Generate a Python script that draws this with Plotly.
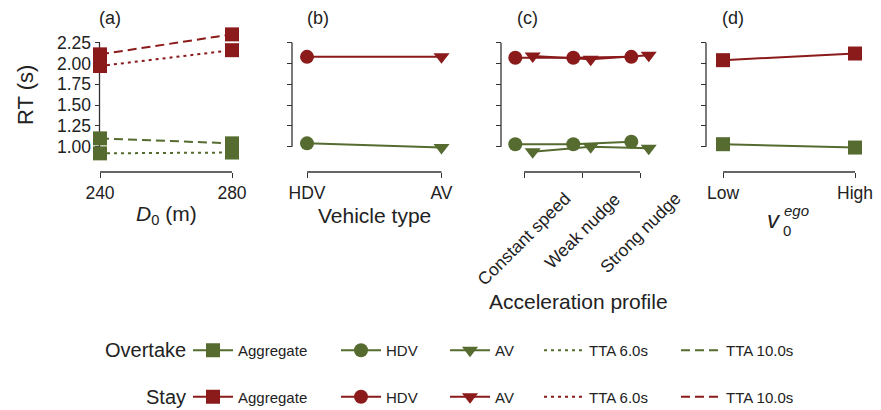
import plotly.graph_objects as go

W, H = 881, 410
GREEN = "#556B2F"
RED = "#8B1A1A"
AXC = "#333333"
TXT = "#222222"
FONT = "Liberation Sans, Arial, sans-serif"

# ---------------- data ----------------
d0_vals = [240, 280]
ov_tta6 = [0.92, 0.93]
ov_tta10 = [1.10, 1.04]
st_tta6 = [1.97, 2.16]
st_tta10 = [2.11, 2.35]

veh_types = ["HDV", "AV"]
veh_symbols = ["circle", "triangle-down"]
ov_veh = [1.04, 0.99]
st_veh = [2.08, 2.08]

acc_profiles = ["Constant speed", "Weak nudge", "Strong nudge"]
ov_acc_hdv = [1.03, 1.03, 1.06]
ov_acc_av = [0.94, 1.00, 0.98]
st_acc_hdv = [2.07, 2.07, 2.08]
st_acc_av = [2.09, 2.05, 2.10]

v0_levels = ["Low", "High"]
ov_v0 = [1.03, 0.99]
st_v0 = [2.04, 2.12]

y_ticks = [1.00, 1.25, 1.50, 1.75, 2.00, 2.25]
y_ticktext = ["1.00", "1.25", "1.50", "1.75", "2.00", "2.25"]
dodge = 0.15

# ---------------- layout helpers ----------------
def px_x(p):
    return p / W

def px_y(p):
    return 1 - p / H

Y_AT_1, PX_PER_UNIT = 146.7, 83.2
Y_TOP, Y_BOT = 18, 170

def yval(p):
    return 1.0 + (Y_AT_1 - p) / PX_PER_UNIT

y_range = [yval(Y_BOT), yval(Y_TOP)]
y_domain = [px_y(Y_BOT), px_y(Y_TOP)]
X_SPINE = 172

# (first value, its px, last value, its px, domain left px, domain right px, y spine px)
panels = [
    (240, 100, 280, 232, 80, 252, 99.5),
    (0, 307, 1, 441.5, 285, 462, 292),
    (0, 524, 2, 640, 495, 665, 501),
    (0, 723, 1, 855, 700, 876, 706),
]

fig = go.Figure()
layout = dict(
    width=W, height=H, margin=dict(l=0, r=0, t=0, b=0, autoexpand=False),
    paper_bgcolor="white", plot_bgcolor="rgba(0,0,0,0)",
    font=dict(family=FONT, color=TXT), showlegend=True,
)
shapes = []
annotations = []

xtickvals = [d0_vals, list(range(len(veh_types))), list(range(len(acc_profiles))), list(range(len(v0_levels)))]
xticktexts = [[str(v) for v in d0_vals], veh_types, acc_profiles, v0_levels]

for i, (v0, p0, v1, p1, dl, dr, ysp) in enumerate(panels):
    n = "" if i == 0 else str(i + 1)
    slope = (p1 - p0) / (v1 - v0)
    xr = [v0 + (dl - p0) / slope, v0 + (dr - p0) / slope]
    layout["xaxis" + n] = dict(
        domain=[px_x(dl), px_x(dr)], range=xr, anchor="free", position=px_y(X_SPINE),
        showline=False, showgrid=False, zeroline=False, automargin=False,
        ticks="outside", ticklen=5, tickwidth=1.3, tickcolor=AXC,
        tickvals=xtickvals[i], ticktext=xticktexts[i],
        showticklabels=(i != 2), tickfont=dict(size=17.5, family=FONT, color=TXT),
        fixedrange=True,
    )
    layout["yaxis" + n] = dict(
        domain=y_domain, range=y_range, anchor="free", position=px_x(ysp),
        showline=False, showgrid=False, zeroline=False, automargin=False,
        ticks="outside", ticklen=5, tickwidth=1.3, tickcolor=AXC,
        tickvals=y_ticks, ticktext=y_ticktext, showticklabels=(i == 0),
        tickfont=dict(size=17.5, family=FONT, color=TXT), layer="below traces",
        fixedrange=True,
    )
    shapes.append(dict(type="line", layer="below", xref="paper", yref="y" + n,
                       x0=px_x(ysp), x1=px_x(ysp), y0=y_ticks[0], y1=y_ticks[-1],
                       line=dict(color=AXC, width=1.3)))
    shapes.append(dict(type="line", layer="below", xref="x" + n, yref="paper",
                       x0=xtickvals[i][0], x1=xtickvals[i][-1], y0=px_y(X_SPINE), y1=px_y(X_SPINE),
                       line=dict(color=AXC, width=1.3)))

LW = 2
DOT = "3px,4px"
DASH = "9px,5px"
MS = 14

def add(x, y, ax, color, dash="solid", symbol="square"):
    n = "" if ax == 0 else str(ax + 1)
    fig.add_trace(go.Scatter(
        x=x, y=y, xaxis="x" + n, yaxis="y" + n, mode="lines+markers",
        line=dict(color=color, width=LW, dash=dash),
        marker=dict(symbol=symbol, size=MS, color=color),
        cliponaxis=False, showlegend=False, hoverinfo="skip",
    ))

# panel (a)
add(d0_vals, ov_tta6, 0, GREEN, DOT)
add(d0_vals, ov_tta10, 0, GREEN, DASH)
add(d0_vals, st_tta6, 0, RED, DOT)
add(d0_vals, st_tta10, 0, RED, DASH)
# panel (b)
xb = list(range(len(veh_types)))
add(xb, ov_veh, 1, GREEN, symbol=veh_symbols)
add(xb, st_veh, 1, RED, symbol=veh_symbols)
# panel (c)
xc = list(range(len(acc_profiles)))
add([v - dodge for v in xc], ov_acc_hdv, 2, GREEN, symbol="circle")
add([v + dodge for v in xc], ov_acc_av, 2, GREEN, symbol="triangle-down")
add([v - dodge for v in xc], st_acc_hdv, 2, RED, symbol="circle")
add([v + dodge for v in xc], st_acc_av, 2, RED, symbol="triangle-down")
# panel (d)
xd = list(range(len(v0_levels)))
add(xd, ov_v0, 3, GREEN)
add(xd, st_v0, 3, RED)

# ---------------- legend ----------------
legend_items = [
    ("Aggregate", "lines+markers", "square", "solid", 213),
    ("HDV", "lines+markers", "circle", "solid", 361),
    ("AV", "lines+markers", "triangle-down", "solid", 470),
    ("TTA 6.0s", "lines", None, DOT, 564),
    ("TTA 10.0s", "lines", None, DASH, 701),
]
for k, (name, mode, sym, dash, cx) in enumerate(legend_items):
    lname = "legend" if k == 0 else "legend" + str(k + 1)
    for grp, color in (("ov", GREEN), ("st", RED)):
        m = dict(color=color, size=MS)
        if sym:
            m["symbol"] = sym
        fig.add_trace(go.Scatter(
            x=[None], y=[None], mode=mode, name=name, legend=lname, legendgroup=grp + str(k),
            line=dict(color=color, width=LW, dash=dash), marker=m, showlegend=True,
        ))
    layout[lname] = dict(
        x=px_x(cx - 25), y=px_y(334), xanchor="left", yanchor="top", orientation="v",
        traceorder="grouped", tracegroupgap=24, itemwidth=40, bgcolor="rgba(0,0,0,0)",
        font=dict(size=15, family=FONT, color=TXT), itemclick=False, itemdoubleclick=False,
    )

def ann(text, x, y, size, xanchor="center", yanchor="middle", angle=0, xref="paper"):
    annotations.append(dict(text=text, x=x, y=px_y(y), xref=xref, yref="paper",
                            xanchor=xanchor, yanchor=yanchor, textangle=angle, showarrow=False,
                            font=dict(size=size, family=FONT, color=TXT)))

ann("Overtake", px_x(188), 350, 20, xanchor="right")
ann("Stay", px_x(188), 397, 20, xanchor="right")

# panel titles
for lab, cx in (("(a)", 110), ("(b)", 318), ("(c)", 527), ("(d)", 733)):
    ann(lab, px_x(cx), 18, 18)

# axis titles
ann("RT (s)", px_x(25), 95, 22, angle=-90)
ann("<i>D</i><sub>0</sub> (m)", px_x(166), 215, 21)
ann("Vehicle type", px_x(374), 215, 21)
ann("Acceleration profile", px_x(578), 301, 21)
ann("<i>v</i>", px_x(774), 219, 24)
ann("0", px_x(787), 230, 15)
ann("<i>ego</i>", px_x(782), 210, 15, xanchor="left")

# rotated category labels of panel (c)
for i, lab in enumerate(acc_profiles):
    ann(lab, i, 186, 17.5, yanchor="top", angle=-45, xref="x3")

layout["shapes"] = shapes
layout["annotations"] = annotations
fig.update_layout(**layout)
fig.write_html("out.html", config={"displayModeBar": False})
